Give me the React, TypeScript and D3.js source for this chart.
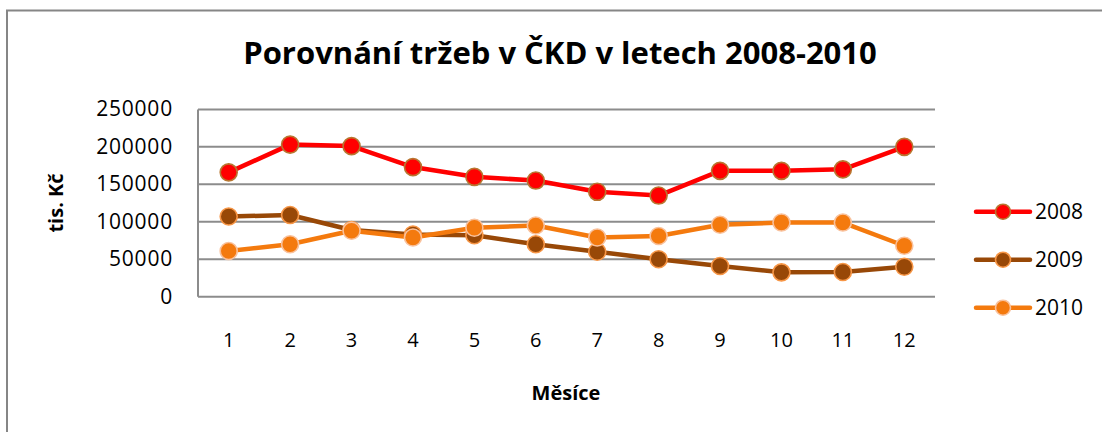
import React from 'react';
import * as d3 from 'd3';

const months = ['1', '2', '3', '4', '5', '6', '7', '8', '9', '10', '11', '12'];
const yTicks = [0, 50000, 100000, 150000, 200000, 250000];
const sales2008 = [166000, 203000, 201000, 173000, 160000, 155000, 140000, 135000, 168000, 168000, 170000, 200000];
const sales2009 = [107000, 109000, 89000, 83000, 82000, 70000, 60000, 50000, 41000, 32500, 33000, 40000];
const sales2010 = [61000, 70000, 88000, 79000, 92000, 95000, 79000, 81000, 96000, 99000, 99000, 68000];

const series = [
  { name: '2008', values: sales2008, line: '#ff0000', fill: '#ff0000', edge: '#b87630' },
  { name: '2009', values: sales2009, line: '#984807', fill: '#984807', edge: '#f79646' },
  { name: '2010', values: sales2010, line: '#f47a0e', fill: '#f47a0e', edge: '#f9c19c' },
];

const font = "'Open Sans', 'Liberation Sans', sans-serif";

const App: React.FC = () => {
  const width = 1102;
  const height = 432;
  const plot = { left: 198, right: 935, top: 109.4, bottom: 296.7 };

  const x = d3.scaleBand().domain(months).range([plot.left, plot.right]).padding(0);
  const y = d3.scaleLinear().domain([0, 250000]).range([plot.bottom, plot.top]);
  const cx = (m: string) => (x(m) || 0) + x.bandwidth() / 2;

  const line = d3.line<number>()
    .x((_, i) => cx(months[i]))
    .y(d => y(d));

  const legendY = d3.scalePoint().domain(series.map(s => s.name)).range([211.7, 307.7]);

  return (
    <>
      <style>{'html,body{margin:0;padding:0;overflow:hidden;background:#fff}'}</style>
      <svg width={width} height={height} style={{ display: 'block' }}>
        <rect x={0} y={0} width={width} height={height} fill="#fff" />
        <rect x={7} y={10.5} width={width + 20} height={height + 20} fill="none" stroke="#868686" strokeWidth={2} />

        <text x={560} y={64} textAnchor="middle" fontFamily={font} fontWeight="bold" fontSize={31}>
          Porovnání tržeb v ČKD v letech 2008-2010
        </text>

        {yTicks.map(t => (
          <line key={t} x1={plot.left} x2={plot.right} y1={y(t)} y2={y(t)} stroke="#8c8c8c" strokeWidth={2} />
        ))}
        <line x1={plot.left} x2={plot.left} y1={plot.top} y2={plot.bottom} stroke="#8c8c8c" strokeWidth={2} />

        {yTicks.map(t => (
          <text key={t} x={173} y={y(t) + 7} textAnchor="end" fontFamily={font} fontSize={21} letterSpacing={0.8}>{t}</text>
        ))}
        {months.map(m => (
          <text key={m} x={cx(m)} y={347} textAnchor="middle" fontFamily={font} fontSize={20}>{m}</text>
        ))}

        <text x={566} y={400} textAnchor="middle" fontFamily={font} fontWeight="bold" fontSize={20}>Měsíce</text>
        <text transform="translate(63,203) rotate(-90)" textAnchor="middle" fontFamily={font} fontWeight="bold" fontSize={20}>tis. Kč</text>

        {series.map(s => (
          <g key={s.name}>
            <path d={line(s.values) || ''} fill="none" stroke={s.line} strokeWidth={4.5} strokeLinejoin="round" />
            {s.values.map((v, i) => (
              <circle key={i} cx={cx(months[i])} cy={y(v)} r={8.5} fill={s.fill} stroke={s.edge} strokeWidth={1.6} />
            ))}
          </g>
        ))}

        {series.map(s => {
          const ly = legendY(s.name) || 0;
          return (
            <g key={s.name}>
              <line x1={976} x2={1030} y1={ly} y2={ly} stroke={s.line} strokeWidth={4.5} strokeLinecap="round" />
              <circle cx={1003} cy={ly} r={7.5} fill={s.fill} stroke={s.edge} strokeWidth={1.6} />
              <text x={1035} y={ly + 7.5} fontFamily={font} fontSize={21}>{s.name}</text>
            </g>
          );
        })}
      </svg>
    </>
  );
};

export default App;
